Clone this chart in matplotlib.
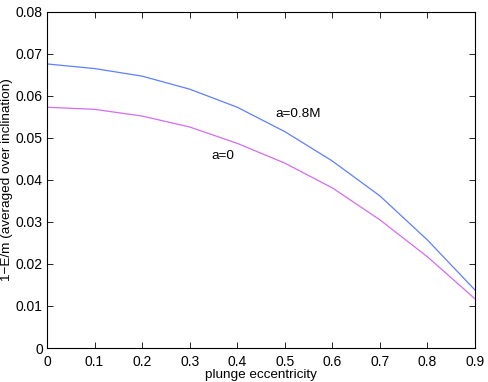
import matplotlib
matplotlib.use("Agg")
import matplotlib.pyplot as plt

plt.rcParams['font.family'] = ['Liberation Sans', 'DejaVu Sans']

ecc = [0.0, 0.1, 0.2, 0.3, 0.4, 0.5, 0.6, 0.7, 0.8, 0.9]
a08 = [0.0676, 0.0665, 0.0647, 0.0616, 0.0573, 0.0515, 0.0445, 0.0362, 0.0257, 0.0138]
a0 = [0.0573, 0.0568, 0.0552, 0.0526, 0.0487, 0.0440, 0.0381, 0.0305, 0.0217, 0.0117]
xticks = [0, 0.1, 0.2, 0.3, 0.4, 0.5, 0.6, 0.7, 0.8, 0.9]
xticklabels = ['0', '0.1', '0.2', '0.3', '0.4', '0.5', '0.6', '0.7', '0.8', '0.9']
yticks = [0, 0.01, 0.02, 0.03, 0.04, 0.05, 0.06, 0.07, 0.08]
yticklabels = ['0', '0.01', '0.02', '0.03', '0.04', '0.05', '0.06', '0.07', '0.08']

fig = plt.figure(figsize=(4.88, 3.82), dpi=100)
ax = fig.add_axes([0.0963, 0.089, 0.877, 0.880])
ax.plot(ecc, a08, color='#5f7fff', lw=0.9)
ax.plot(ecc, a0, color='#d46cf2', lw=0.9)
ax.text(0.528, 0.0557, 'a=0.8M', ha='center', va='center', fontsize=9.7)
ax.text(0.370, 0.0457, 'a=0', ha='center', va='center', fontsize=9.7)

ax.set_xlim(0, 0.9)
ax.set_ylim(0, 0.08)
ax.set_xticks(xticks)
ax.set_xticklabels(xticklabels)
ax.set_yticks(yticks)
ax.set_yticklabels(yticklabels)
ax.tick_params(direction='in', top=True, right=True, labelsize=10, length=4, width=0.6)
ax.tick_params(axis='x', pad=5)
ax.tick_params(axis='y', pad=3)
for s in ax.spines.values():
    s.set_linewidth(0.8)
ax.set_xlabel('plunge eccentricity', fontsize=9.7, labelpad=0)
ax.set_ylabel('1\u2212E/m (averaged over inclination)', fontsize=9.7, labelpad=2)

fig.savefig('out.png', dpi=100)
